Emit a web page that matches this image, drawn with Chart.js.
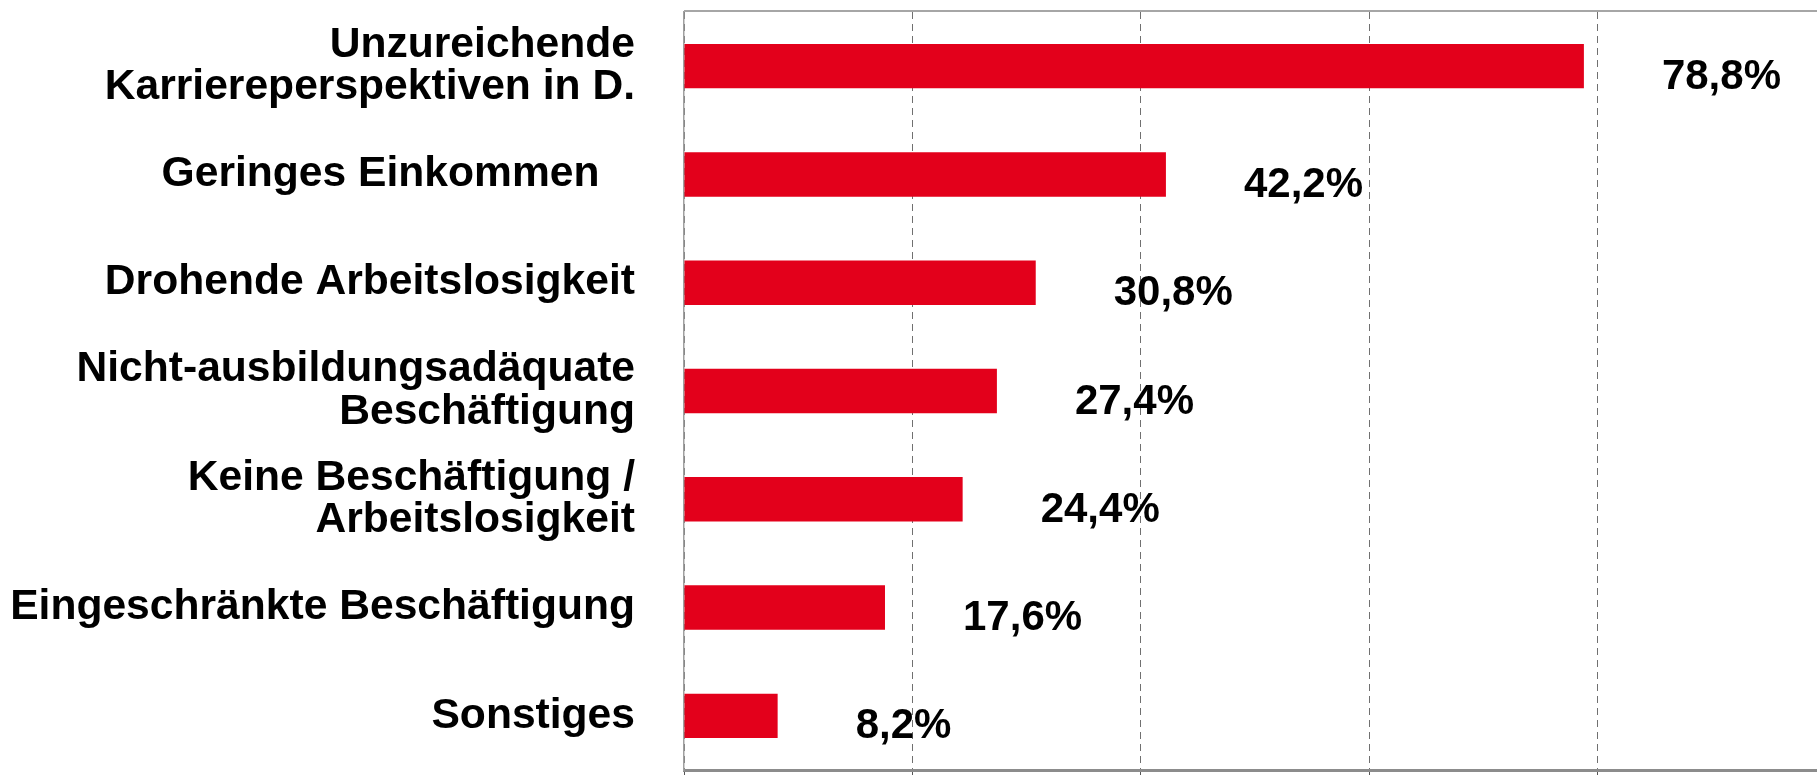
<!DOCTYPE html>
<html>
<head>
<meta charset="utf-8">
<script src="https://cdn.jsdelivr.net/npm/chart.js@4"></script>
<style>
    body { margin: 0; overflow: hidden; background: #fff; }
    #wrap { width: 1830px; height: 775px; position: relative; }
</style>
</head>
<body>
<div id="wrap"><canvas id="barChart"></canvas></div>
<script>
const categories = [
    ['Unzureichende', 'Karriereperspektiven in D.'],
    'Geringes Einkommen   ',
    'Drohende Arbeitslosigkeit',
    ['Nicht-ausbildungsadäquate', 'Beschäftigung'],
    ['Keine Beschäftigung /', 'Arbeitslosigkeit'],
    'Eingeschränkte Beschäftigung',
    'Sonstiges'
];
const shares = [78.8, 42.2, 30.8, 27.4, 24.4, 17.6, 8.2];
const xTicks = [0, 20, 40, 60, 80, 100];

const fontFamily = "'Liberation Sans', Arial, sans-serif";

// Prozentwerte rechts neben den Balken
const valueLabels = {
    id: 'valueLabels',
    afterDatasetsDraw(chart) {
        const ctx = chart.ctx;
        const meta = chart.getDatasetMeta(0);
        ctx.save();
        ctx.font = 'bold 42px ' + fontFamily;
        ctx.fillStyle = '#000';
        ctx.textAlign = 'left';
        ctx.textBaseline = 'middle';
        meta.data.forEach((bar, i) => {
            const txt = shares[i].toFixed(1).replace('.', ',') + '%';
            ctx.fillText(txt, bar.x + 78, bar.y + 11);
        });
        ctx.restore();
    }
};

// obere Rahmenlinie
const topBorder = {
    id: 'topBorder',
    afterDraw(chart) {
        const { ctx, chartArea } = chart;
        ctx.save();
        ctx.strokeStyle = '#a6a6a6';
        ctx.lineWidth = 2;
        ctx.beginPath();
        ctx.moveTo(chartArea.left, chartArea.top - 1);
        ctx.lineTo(chartArea.right + 10, chartArea.top - 1);
        ctx.stroke();
        ctx.restore();
    }
};

new Chart(document.getElementById('barChart').getContext('2d'), {
    type: 'bar',
    data: {
        labels: categories,
        datasets: [{
            data: shares,
            backgroundColor: '#e3001b',
            borderWidth: 0,
            barPercentage: 0.41,
            categoryPercentage: 1
        }]
    },
    options: {
        indexAxis: 'y',
        responsive: true,
        maintainAspectRatio: false,
        animation: false,
        layout: { padding: { top: 12, right: 4, left: 0, bottom: 0 } },
        plugins: {
            legend: { display: false },
            tooltip: { enabled: false }
        },
        scales: {
            x: {
                min: xTicks[0],
                max: xTicks[xTicks.length - 1],
                afterBuildTicks: (scale) => {
                    scale.ticks = xTicks.map(v => ({ value: v }));
                },
                ticks: { display: false },
                grid: {
                    color: '#707070',
                    lineWidth: 1,
                    tickLength: 8,
                    tickColor: '#555'
                },
                border: { display: true, color: '#8c8c8c', width: 3, dash: [7, 5] },
                afterFit: (scale) => {
                    scale.height = 5;
                    scale.paddingLeft = 0;
                    scale.paddingRight = 0;
                }
            },
            y: {
                grid: { display: false },
                border: { display: true, color: '#a0a0a0', width: 1.5 },
                ticks: {
                    color: '#000',
                    padding: 41,
                    font: { family: fontFamily, size: 42.6, weight: 'bold', lineHeight: 1.0 }
                },
                afterFit: (scale) => {
                    scale.width = 684;
                    scale.paddingTop = 0;
                    scale.paddingBottom = 0;
                }
            }
        }
    },
    plugins: [valueLabels, topBorder]
});
</script>
</body>
</html>
